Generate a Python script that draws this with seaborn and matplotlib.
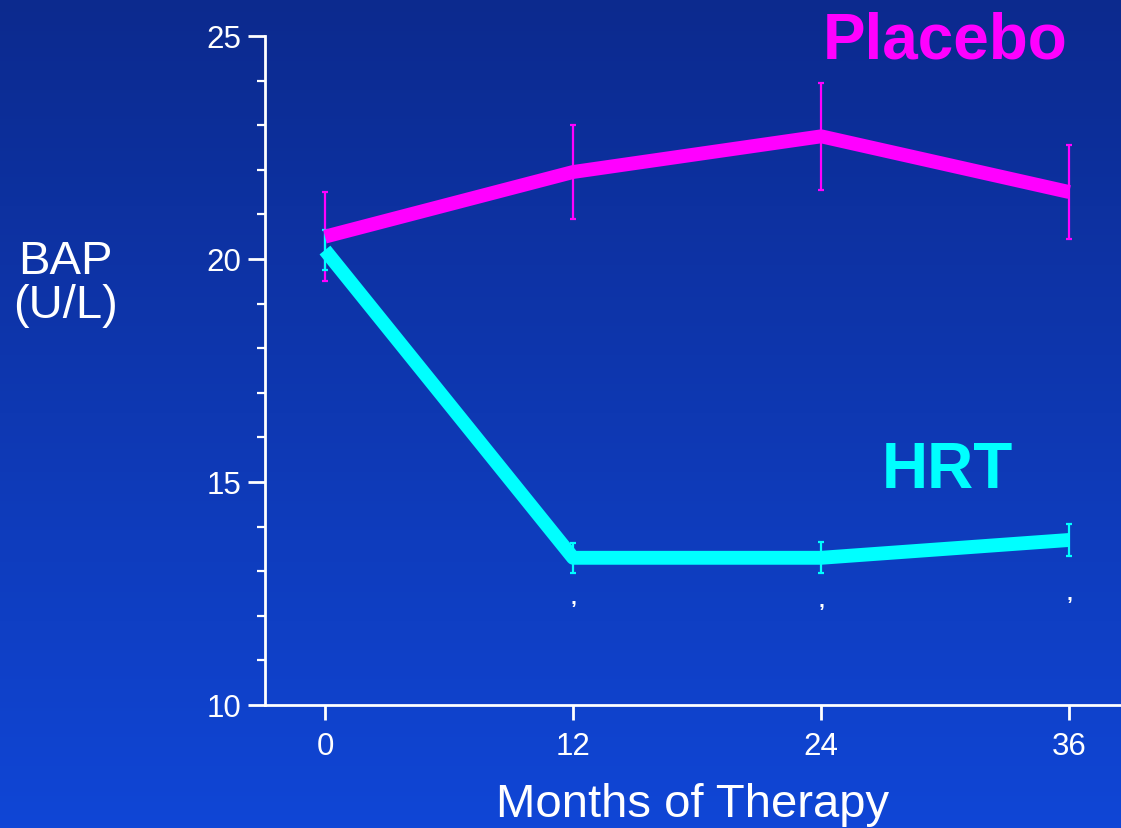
import numpy as np
import pandas as pd
import matplotlib
matplotlib.use("Agg")
import matplotlib.pyplot as plt
from matplotlib.colors import LinearSegmentedColormap
import seaborn as sns

# Bone-specific alkaline phosphatase over time
months = [0, 12, 24, 36]
placebo_mean = [20.5, 21.95, 22.75, 21.5]
placebo_err = [1.0, 1.05, 1.2, 1.05]
hrt_mean = [20.2, 13.3, 13.3, 13.7]
hrt_err = [0.45, 0.33, 0.35, 0.35]
sig_months = [12, 24, 36]
sig_y = [12.4, 12.35, 12.5]

groups = ["Placebo", "HRT"]
group_colors = {"Placebo": "#ff00ff", "HRT": "#00ffff"}
y_ticks = [10, 15, 20, 25]

df = pd.DataFrame({
    "month": months * 2,
    "bap": placebo_mean + hrt_mean,
    "group": ["Placebo"] * 4 + ["HRT"] * 4,
})

sns.set_theme(style="white")
plt.rcParams["font.family"] = ["Liberation Sans", "DejaVu Sans"]

fig = plt.figure(figsize=(11.21, 8.29), dpi=100)

# vertical blue gradient background
bg = fig.add_axes([0, 0, 1, 1], zorder=-10)
grad = np.linspace(0, 1, 256).reshape(-1, 1)
cmap = LinearSegmentedColormap.from_list("bg", ["#0c2a8e", "#1046d6"])
bg.imshow(grad, aspect="auto", cmap=cmap, extent=[0, 1, 0, 1], origin="upper")
bg.set_axis_off()

ax = fig.add_axes([0.2364, 0.1484, 0.7636, 0.807])
ax.patch.set_alpha(0)

for g, m, e in [("Placebo", placebo_mean, placebo_err), ("HRT", hrt_mean, hrt_err)]:
    ax.errorbar(months, m, yerr=e, fmt="none", ecolor=group_colors[g],
                elinewidth=1.6, capsize=2.5, capthick=1.6, zorder=2)

sns.lineplot(data=df, x="month", y="bap", hue="group", hue_order=groups,
             palette=group_colors, linewidth=10, legend=False, ax=ax,
             zorder=3, solid_capstyle="butt")

for xm, ym in zip(sig_months, sig_y):
    ax.text(xm, ym, ",", color="white", fontsize=15, fontweight="bold",
            ha="center", va="center")

ax.set_xlim(-2.9, 38.5)
ax.set_ylim(10, 25)
ax.set_xticks(months)
ax.set_yticks(y_ticks)
ax.set_yticks(np.arange(10, 25, 1), minor=True)

for side in ["top", "right"]:
    ax.spines[side].set_visible(False)
for side in ["left", "bottom"]:
    ax.spines[side].set_color("white")
    ax.spines[side].set_linewidth(2)

ax.tick_params(axis="y", which="major", direction="out", length=12, width=2,
               color="white", labelcolor="white", labelsize=22.5, pad=5, left=True)
ax.tick_params(axis="y", which="minor", direction="out", length=6, width=1.6,
               color="white", left=True)
ax.tick_params(axis="x", which="major", direction="out", length=11, width=2,
               color="white", labelcolor="white", labelsize=22.5, pad=8, bottom=True)

ax.set_xlabel("")
ax.set_ylabel("")

fig.text(0.058, 0.657, "BAP\n(U/L)", color="white", fontsize=34,
         ha="center", va="center", linespacing=1.0)
fig.text(0.618, 0.029, "Months of Therapy", color="white", fontsize=34,
         ha="center", va="center")

ax.text(35.9, 24.9, "Placebo", color="#ff00ff", fontsize=46, fontweight="bold",
        ha="right", va="center")
ax.text(30.1, 15.26, "HRT", color="#00ffff", fontsize=46, fontweight="bold",
        ha="center", va="center")

fig.savefig("out.png", dpi=100)
